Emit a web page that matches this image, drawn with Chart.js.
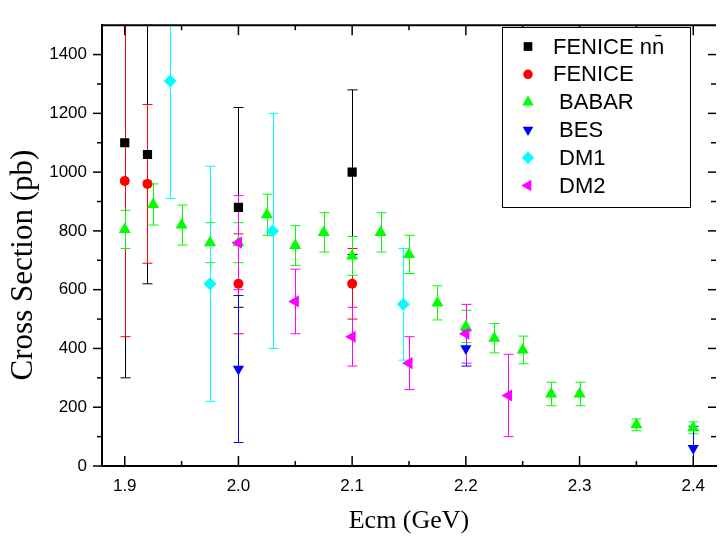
<!DOCTYPE html>
<html>
<head>
<meta charset="utf-8">
<title>Cross section vs Ecm</title>
<script src="https://cdn.jsdelivr.net/npm/chart.js@4.4.1/dist/chart.umd.min.js"></script>
<style>
  html, body { margin: 0; padding: 0; background: #fff; }
  #xsec { display: block; }
</style>
</head>
<body>
<canvas id="xsec" width="723" height="536"></canvas>
<script>
// Measured cross sections (pb) with symmetric errors, one set of arrays per experiment
const feniceNnE = [1.90, 1.92, 2.00, 2.10];
const feniceNnSigma = [1100, 1060, 880, 1000];
const feniceNnErr = [800, 440, 340, 280];

const feniceE = [1.90, 1.92, 2.00, 2.10];
const feniceSigma = [970, 960, 620, 620];
const feniceErr = [530, 270, 170, 120];

const babarE = [1.900, 1.925, 1.950, 1.975, 2.000, 2.025, 2.050, 2.075, 2.100, 2.125,
                2.150, 2.175, 2.200, 2.225, 2.250, 2.275, 2.300, 2.350, 2.400];
const babarSigma = [805, 890, 820, 760, 760, 855, 750, 795, 715, 795,
                    720, 555, 475, 435, 395, 245, 245, 140, 130];
const babarErr = [65, 70, 68, 68, 68, 70, 68, 67, 66, 67,
                  65, 58, 55, 50, 47, 40, 40, 20, 20];

const besE = [2.00, 2.20, 2.40];
const besSigma = [330, 400, 60];
const besErr = [250, 60, 75];

const dm1E = [1.940, 1.975, 2.030, 2.145];
const dm1Sigma = [1310, 620, 800, 550];
const dm1Err = [400, 400, 400, 190];

const dm2E = [2.000, 2.050, 2.100, 2.150, 2.200, 2.2375];
const dm2Sigma = [760, 560, 440, 350, 450, 240];
const dm2Err = [160, 110, 100, 90, 100, 140];

// Axis ticks
const xMajorTicks = [1.9, 2.0, 2.1, 2.2, 2.3, 2.4];
const xTickLabels = ["1.9", "2.0", "2.1", "2.2", "2.3", "2.4"];
const xMinorTicks = [1.95, 2.05, 2.15, 2.25, 2.35];
const yMajorTicks = [0, 200, 400, 600, 800, 1000, 1200, 1400];
const yTickLabels = ["0", "200", "400", "600", "800", "1000", "1200", "1400"];
const yMinorTicks = [100, 300, 500, 700, 900, 1100, 1300];

const SANS = '"Liberation Sans", Arial, Helvetica, sans-serif';
const SERIF = '"Liberation Serif", "Times New Roman", Times, serif';

function points(es, sig, err) {
  return es.map((e, i) => ({ x: e, y: sig[i], err: err[i] }));
}

function series(label, es, sig, err, color, style, radius, rotation, order) {
  return {
    label: label,
    data: points(es, sig, err),
    backgroundColor: color,
    borderColor: color,
    pointStyle: style,
    pointRadius: radius,
    pointRotation: rotation,
    pointBorderWidth: 0,
    order: order,
  };
}

function line(ctx, x1, y1, x2, y2) {
  ctx.beginPath();
  ctx.moveTo(x1, y1);
  ctx.lineTo(x2, y2);
  ctx.stroke();
}

// vertical error bars with caps, under the markers
const errorBars = {
  id: "errorBars",
  beforeDatasetsDraw(chart) {
    const ctx = chart.ctx;
    const area = chart.chartArea;
    const yScale = chart.scales.y;
    ctx.save();
    ctx.beginPath();
    ctx.rect(area.left, area.top - 1, area.right - area.left, area.bottom - area.top + 1);
    ctx.clip();
    ctx.lineWidth = 1;
    chart.data.datasets.forEach((ds, di) => {
      const meta = chart.getDatasetMeta(di);
      ctx.strokeStyle = ds.borderColor;
      meta.data.forEach((pt, i) => {
        const raw = ds.data[i];
        const hi = yScale.getPixelForValue(raw.y + raw.err);
        const lo = yScale.getPixelForValue(raw.y - raw.err);
        const x = Math.round(pt.x) + 0.5;
        line(ctx, x, hi, x, lo);
        line(ctx, x - 5, hi, x + 5, hi);
        line(ctx, x - 5, lo, x + 5, lo);
      });
    });
    ctx.restore();
  },
};

// frame ticks (majors and minors), top axis line, axis titles and legend box
const frame = {
  id: "frame",
  afterDraw(chart) {
    const ctx = chart.ctx;
    const { left, right, top, bottom } = chart.chartArea;
    const xs = chart.scales.x;
    const ys = chart.scales.y;
    ctx.save();
    ctx.strokeStyle = "#000";
    ctx.lineWidth = 2;
    line(ctx, left - 1, top, right, top);

    ctx.lineWidth = 1.5;
    xMajorTicks.forEach((v) => {
      const px = xs.getPixelForValue(v);
      line(ctx, px, bottom, px, bottom - 10);
      line(ctx, px, top, px, top + 10);
    });
    xMinorTicks.forEach((v) => {
      const px = xs.getPixelForValue(v);
      line(ctx, px, bottom, px, bottom - 5);
      line(ctx, px, top, px, top + 5);
    });
    yMajorTicks.forEach((v) => {
      const py = ys.getPixelForValue(v);
      line(ctx, left, py, left - 9, py);
      line(ctx, right, py, right - 8, py);
    });
    yMinorTicks.forEach((v) => {
      const py = ys.getPixelForValue(v);
      line(ctx, left, py, left - 5, py);
      line(ctx, right, py, right - 5, py);
    });

    // axis titles
    ctx.fillStyle = "#000";
    ctx.textAlign = "center";
    ctx.textBaseline = "alphabetic";
    ctx.font = "26px " + SERIF;
    ctx.fillText("Ecm (GeV)", (left + right) / 2, 528);
    ctx.save();
    ctx.translate(32, 265);
    ctx.rotate(-Math.PI / 2);
    ctx.font = "31px " + SERIF;
    ctx.fillText("Cross Section (pb)", 0, 0);
    ctx.restore();

    // legend
    const box = { x: 502.5, y: 27.5, w: 188, h: 180 };
    ctx.fillStyle = "#fff";
    ctx.fillRect(box.x, box.y, box.w, box.h);
    ctx.lineWidth = 1;
    ctx.strokeRect(box.x, box.y, box.w, box.h);
    ctx.font = "22px " + SANS;
    ctx.textAlign = "left";
    ctx.textBaseline = "middle";
    const drawPoint = Chart.helpers && Chart.helpers.drawPoint;
    chart.data.datasets.forEach((ds, i) => {
      const cy = 46.5 + i * 27.8;
      ctx.fillStyle = ds.backgroundColor;
      ctx.strokeStyle = ds.borderColor;
      if (drawPoint) {
        drawPoint(ctx, { pointStyle: ds.pointStyle, radius: ds.pointRadius * 0.95,
                         rotation: ds.pointRotation, borderWidth: 0 }, 528, cy);
      } else {
        ctx.beginPath();
        ctx.arc(528, cy, 5, 0, Math.PI * 2);
        ctx.fill();
      }
      ctx.fillStyle = "#000";
      ctx.fillText(ds.label, 553, cy + 1);
    });
    ctx.restore();
  },
};

new Chart(document.getElementById("xsec"), {
  type: "scatter",
  data: {
    datasets: [
      series("FENICE nn\u0304", feniceNnE, feniceNnSigma, feniceNnErr, "#000000", "rect", 6.5, 0, 6),
      series("FENICE", feniceE, feniceSigma, feniceErr, "#ff0000", "circle", 5, 0, 5),
      series(" BABAR", babarE, babarSigma, babarErr, "#00ff00", "triangle", 7, 0, 4),
      series(" BES", besE, besSigma, besErr, "#0000ff", "triangle", 6.5, 180, 3),
      series(" DM1", dm1E, dm1Sigma, dm1Err, "#00ffff", "rectRot", 6.5, 0, 2),
      series(" DM2", dm2E, dm2Sigma, dm2Err, "#ff00ff", "triangle", 7, 270, 1),
    ],
  },
  options: {
    responsive: false,
    animation: false,
    events: [],
    layout: { padding: { top: 9, left: 0, right: 0, bottom: 0 } },
    plugins: {
      legend: { display: false },
      tooltip: { enabled: false },
    },
    scales: {
      x: {
        type: "linear",
        min: 1.88,
        max: 2.42,
        afterBuildTicks: (scale) => {
          scale.ticks = xMajorTicks.map((v) => ({ value: v }));
        },
        afterFit: (scale) => {
          scale.height = 70;
        },
        grid: { display: false, drawTicks: false },
        border: { display: true, color: "#000", width: 2 },
        ticks: {
          autoSkip: false,
          maxRotation: 0,
          padding: 10,
          color: "#000",
          font: { family: SANS, size: 17 },
          callback: (v, i) => xTickLabels[i],
        },
      },
      y: {
        type: "linear",
        min: 0,
        max: 1500,
        afterBuildTicks: (scale) => {
          scale.ticks = yMajorTicks.map((v) => ({ value: v }));
        },
        afterFit: (scale) => {
          scale.width = 102;
        },
        grid: { display: false, drawTicks: false },
        border: { display: true, color: "#000", width: 2 },
        ticks: {
          autoSkip: false,
          padding: 15,
          color: "#000",
          font: { family: SANS, size: 17 },
          callback: (v, i) => yTickLabels[i],
        },
      },
    },
  },
  plugins: [errorBars, frame],
});
</script>
</body>
</html>
